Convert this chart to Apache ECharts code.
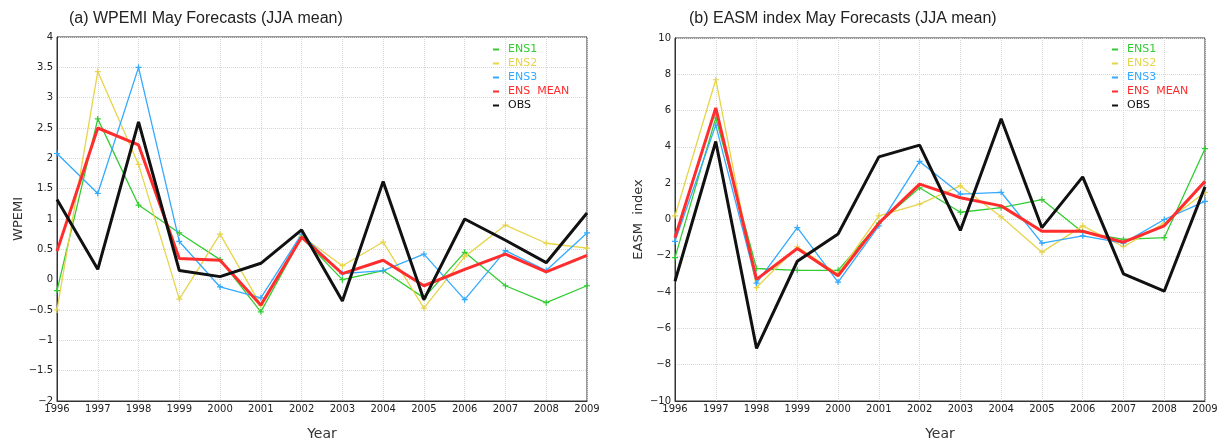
<!DOCTYPE html>
<html>
<head>
<meta charset="utf-8">
<script src="https://cdn.jsdelivr.net/npm/echarts@6/dist/echarts.min.js"></script>
<style>
  html, body { margin: 0; padding: 0; background: #fff; }
  #chart { width: 1223px; height: 447px; }
</style>
</head>
<body>
<div id="chart"></div>
<script>
// years on the x axis
var years = ['1996', '1997', '1998', '1999', '2000', '2001', '2002', '2003', '2004', '2005', '2006', '2007', '2008', '2009'];

// (a) WPEMI
var wpemiEns1 = [-0.18, 2.65, 1.23, 0.77, 0.33, -0.53, 0.70, 0.00, 0.15, -0.30, 0.45, -0.10, -0.38, -0.10];
var wpemiEns2 = [-0.50, 3.43, 1.90, -0.32, 0.75, -0.42, 0.72, 0.23, 0.62, -0.47, 0.38, 0.90, 0.60, 0.52];
var wpemiEns3 = [2.08, 1.42, 3.50, 0.63, -0.12, -0.30, 0.75, 0.10, 0.15, 0.42, -0.33, 0.48, 0.15, 0.77];
var wpemiMean = [0.47, 2.50, 2.22, 0.35, 0.32, -0.42, 0.70, 0.10, 0.32, -0.10, 0.17, 0.42, 0.13, 0.40];
var wpemiObs = [1.32, 0.17, 2.60, 0.15, 0.05, 0.27, 0.82, -0.35, 1.62, -0.33, 1.00, 0.65, 0.28, 1.10];

// (b) EASM index
var easmEns1 = [-2.1, 5.6, -2.7, -2.8, -2.8, -0.2, 1.75, 0.4, 0.65, 1.1, -0.7, -1.1, -1.0, 3.9];
var easmEns2 = [0.2, 7.7, -3.75, -1.5, -3.0, 0.2, 0.85, 1.85, 0.15, -1.8, -0.35, -1.5, -0.2, 1.5];
var easmEns3 = [-1.2, 5.2, -3.5, -0.45, -3.45, -0.35, 3.2, 1.4, 1.5, -1.3, -0.9, -1.3, 0.0, 1.0];
var easmMean = [-1.0, 6.15, -3.3, -1.6, -3.1, -0.2, 1.95, 1.2, 0.75, -0.65, -0.65, -1.25, -0.35, 2.1];
var easmObs = [-3.4, 4.3, -7.1, -2.3, -0.8, 3.45, 4.1, -0.6, 5.55, -0.45, 2.35, -3.0, -3.95, 1.8];

var names = ['ENS1', 'ENS2', 'ENS3', 'ENS  MEAN', 'OBS'];
var colors = ['#33cc33', '#e6d44a', '#33aaff', '#ff2d2d', '#111111'];
var plusPath = 'path://M4,0H6V4H10V6H6V10H4V6H0V4H4Z';

var chart = echarts.init(document.getElementById('chart'));

function makeSeries(idx, sets) {
  return sets.map(function (d, i) {
    var thick = i >= 3;
    return {
      name: names[i],
      type: 'line',
      xAxisIndex: idx,
      yAxisIndex: idx,
      data: d,
      color: colors[i],
      symbol: thick ? 'none' : plusPath,
      symbolSize: 6,
      showSymbol: !thick,
      lineStyle: { width: thick ? 3 : 1.3, color: colors[i] },
      itemStyle: { color: colors[i] },
      z: thick ? 5 : 3,
      animation: false
    };
  });
}

function legendFor(left) {
  return {
    orient: 'vertical',
    left: left,
    top: 44,
    itemWidth: 6,
    itemHeight: 2,
    itemGap: 3,
    icon: 'rect',
    padding: 0,
    textStyle: { fontSize: 11, fontFamily: 'DejaVu Sans', padding: [0, 0, 0, 4] },
    data: names.map(function (n, i) {
      return { name: n, itemStyle: { color: colors[i] }, textStyle: { color: colors[i] } };
    })
  };
}

function xAxisFor(idx) {
  return {
    type: 'category',
    gridIndex: idx,
    data: years,
    boundaryGap: false,
    name: 'Year',
    nameLocation: 'middle',
    nameGap: 26,
    nameTextStyle: { fontSize: 14, color: '#333', fontFamily: 'DejaVu Sans' },
    axisLine: { onZero: false, lineStyle: { color: '#333', width: 1 } },
    axisTick: { show: false },
    axisLabel: { color: '#222', fontSize: 10, fontFamily: 'DejaVu Sans', interval: 0, margin: 3 },
    splitLine: { show: true, lineStyle: { type: 'dotted', color: '#d6d6d6' } }
  };
}

function yAxisFor(idx, min, max, step, name) {
  return {
    type: 'value',
    gridIndex: idx,
    min: min,
    max: max,
    interval: step,
    name: name,
    nameLocation: 'middle',
    nameGap: 30,
    nameTextStyle: { fontSize: 13, color: '#333', fontFamily: 'DejaVu Sans' },
    axisLine: { show: true, onZero: false, lineStyle: { color: '#333', width: 1 } },
    axisTick: { show: false },
    axisLabel: {
      color: '#222', fontSize: 10, fontFamily: 'DejaVu Sans', margin: 4,
      formatter: function (v) { return String(v).replace('-', '\u2212'); }
    },
    splitLine: { show: true, lineStyle: { type: 'dotted', color: '#d6d6d6' } }
  };
}

var option = {
  backgroundColor: '#fff',
  animation: false,
  title: [
    { text: '(a) WPEMI May Forecasts (JJA mean)', left: 64, top: 6,
      textStyle: { fontSize: 16, fontWeight: 'normal', color: '#222', fontFamily: 'Liberation Sans' } },
    { text: '(b) EASM index May Forecasts (JJA mean)', left: 684, top: 6,
      textStyle: { fontSize: 16, fontWeight: 'normal', color: '#222', fontFamily: 'Liberation Sans' } }
  ],
  legend: [legendFor(493), legendFor(1112)],
  grid: [
    { left: 57, top: 37, width: 530, height: 364, show: true, borderColor: '#333', borderWidth: 1 },
    { left: 675, top: 38, width: 530, height: 363, show: true, borderColor: '#333', borderWidth: 1 }
  ],
  xAxis: [xAxisFor(0), xAxisFor(1)],
  yAxis: [yAxisFor(0, -2, 4, 0.5, 'WPEMI'), yAxisFor(1, -10, 10, 2, 'EASM  index')],
  series: makeSeries(0, [wpemiEns1, wpemiEns2, wpemiEns3, wpemiMean, wpemiObs])
    .concat(makeSeries(1, [easmEns1, easmEns2, easmEns3, easmMean, easmObs]))
};

chart.setOption(option);
</script>
</body>
</html>
